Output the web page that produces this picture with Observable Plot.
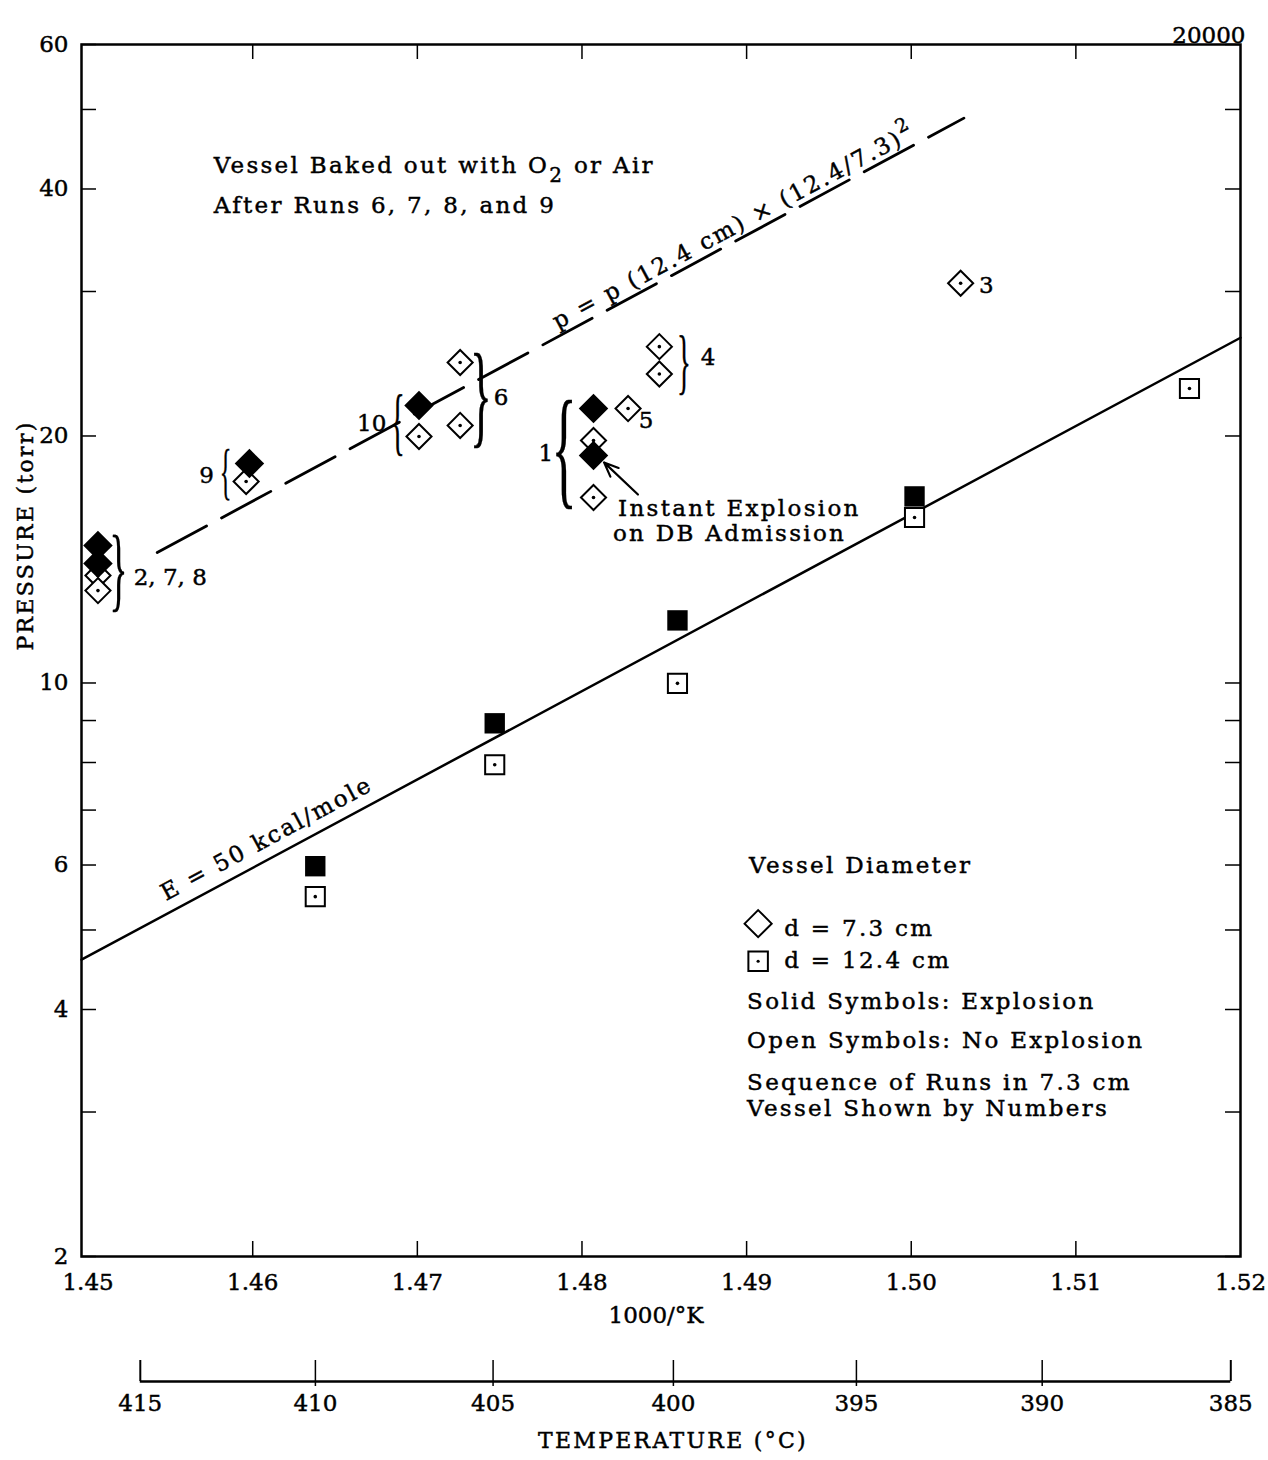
<!DOCTYPE html>
<html><head><meta charset="utf-8">
<script src="https://cdn.jsdelivr.net/npm/d3@7"></script>
<script src="https://cdn.jsdelivr.net/npm/@observablehq/plot@0.6"></script>
<style>
body{margin:0;background:#fff;}
#chart{width:1268px;}
#chart svg{display:block;}
#chart text{stroke:#000;stroke-width:0.45px;}
g[aria-description="brace"] text{stroke-width:0.2px;}
g[aria-description="annot"] text{letter-spacing:2.3px;}
</style></head><body><div id="chart"></div>
<script>
// ---- axes / ticks ----
const xTicks = [1.45, 1.46, 1.47, 1.48, 1.49, 1.50, 1.51, 1.52];
const yTicksLabeled = [60, 40, 20, 10, 8, 6, 4, 2];
const yTicksAll = [60, 50, 40, 30, 20, 10, 9, 8, 7, 6, 5, 4, 3, 2];
const tempTicksC = [415, 410, 405, 400, 395, 390, 385];

// ---- d = 7.3 cm (diamonds) ----
const diamondOpenX = [1.4506, 1.4506, 1.4596, 1.4701, 1.4726, 1.4726, 1.4807, 1.4807, 1.4828, 1.4847, 1.4847, 1.5030];
const diamondOpenP = [13.52, 12.96, 17.6, 19.97, 24.58, 20.6, 19.75, 16.83, 21.6, 25.7, 23.8, 30.7];
const diamondSolidX = [1.4506, 1.4506, 1.4598, 1.4701, 1.4807, 1.4807];
const diamondSolidP = [14.71, 13.98, 18.51, 21.78, 21.6, 18.93];

// ---- d = 12.4 cm (squares) ----
const squareOpenX = [1.4638, 1.4747, 1.4858, 1.5002, 1.5169];
const squareOpenP = [5.49, 7.95, 9.99, 15.91, 22.85];
const squareSolidX = [1.4638, 1.4747, 1.4858, 1.5002];
const squareSolidP = [5.98, 8.93, 11.92, 16.88];

// ---- drawn lines ----
const lineE_X = [1.4496, 1.52];
const lineE_P = [4.60, 26.35];
const lineD_X = [1.4542, 1.5032];
const lineD_P = [14.42, 48.8];

// ---- run-number labels and braces ----
const runLabels = ["2, 7, 8", "9", "10", "6", "1", "4", "5", "3"];
const runLabelX = [1.45277, 1.45720, 1.46723, 1.47508, 1.47781, 1.48766, 1.48389, 1.50456];
const runLabelP = [13.45, 17.9, 20.7, 22.3, 19.04, 24.9, 20.9, 30.5];
const runLabelAnchor = ["start", "middle", "middle", "middle", "middle", "middle", "middle", "middle"];
const braceChars = ["}", "{", "{", "}", "{", "}"];
const braceX = [1.45185, 1.45836, 1.46881, 1.47386, 1.47891, 1.48620];
const braceP = [13.71, 18.05, 20.8, 22.35, 19.26, 24.6];
const braceH = [84, 55, 67, 102, 118, 65];

// ---- text notes ----
const noteTexts = ["Vessel Baked out with O\u2082 or Air", "After Runs 6, 7, 8, and 9", "Instant Explosion", "on DB Admission",
  "Vessel Diameter", "d = 7.3 cm", "d = 12.4 cm", "Solid Symbols: Explosion", "Open Symbols: No Explosion",
  "Sequence of Runs in 7.3 cm", "Vessel Shown by Numbers"];
const noteX = [1.45763, 1.45763, 1.48219, 1.48188, 1.49015, 1.49228, 1.49228, 1.49003, 1.49003, 1.49003, 1.49003];
const noteP = [42.76, 38.2, 16.3, 15.2, 5.99, 5.02, 4.59, 4.09, 3.67, 3.26, 3.03];

const rows = (xs, ps) => xs.map((x, i) => ({x, p: ps[i]}));
const W = 1268, H = 1340, ML = 81, MR = 28, MT = 44, MB = 84;
const PW = W - ML - MR, PH = H - MT - MB;
const xDomain = [1.4496, 1.52];
const font = "'DejaVu Serif', serif";
const cToX = c => 1000 / (c + 273.15);

const main = Plot.plot({
  width: W, height: H, marginLeft: ML, marginRight: MR, marginTop: MT, marginBottom: MB,
  x: {domain: xDomain},
  y: {type: "log", domain: [2, 60]},
  style: {fontFamily: font, fontSize: "23px", color: "#000", background: "#fff"},
  marks: [
    Plot.line(rows(lineE_X, lineE_P), {x: "x", y: "p", stroke: "#000", strokeWidth: 2.5}),
    Plot.line(rows(lineD_X, lineD_P), {x: "x", y: "p", stroke: "#000", strokeWidth: 2.8, strokeDasharray: "56,17"}),
    Plot.ruleY(yTicksAll, {y: d => d, stroke: "#000", strokeWidth: 1.5, insetRight: PW - 15}),
    Plot.ruleY(yTicksAll, {y: d => d, stroke: "#000", strokeWidth: 1.5, insetLeft: PW - 15}),
    Plot.ruleX(xTicks.slice(1, -1), {x: d => d, stroke: "#000", strokeWidth: 1.5, insetTop: PH - 15}),
    Plot.ruleX(xTicks.slice(1, -1), {x: d => d, stroke: "#000", strokeWidth: 1.5, insetBottom: PH - 15}),
    Plot.axisY({ticks: yTicksLabeled, tickSize: 0, tickPadding: 13, tickFormat: d => String(d), label: null}),
    Plot.axisX({ticks: xTicks, tickSize: 0, tickPadding: 17, tickFormat: d3.format(".2f"), label: null}),
    Plot.frame({stroke: "#000", strokeWidth: 2.5}),
    // data symbols
    Plot.dot(rows(squareSolidX, squareSolidP), {x: "x", y: "p", symbol: "square", r: 11.5, fill: "#000"}),
    Plot.dot(rows(squareOpenX, squareOpenP), {x: "x", y: "p", symbol: "square", r: 10.8, fill: "#fff", stroke: "#000", strokeWidth: 2}),
    Plot.dot(rows(squareOpenX, squareOpenP), {x: "x", y: "p", r: 1.8, fill: "#000"}),
    Plot.dot(rows(diamondOpenX, diamondOpenP), {x: "x", y: "p", symbol: "diamond2", r: 11.3, fill: "#fff", stroke: "#000", strokeWidth: 2}),
    Plot.dot(rows(diamondOpenX, diamondOpenP), {x: "x", y: "p", r: 1.8, fill: "#000"}),
    Plot.dot(rows(diamondSolidX, diamondSolidP), {x: "x", y: "p", symbol: "diamond2", r: 13.3, fill: "#000"}),
    // legend symbols
    Plot.dot([{x: 1.4907, p: 5.09}], {x: "x", y: "p", symbol: "diamond2", r: 12.2, fill: "#fff", stroke: "#000", strokeWidth: 2}),
    Plot.dot([{x: 1.4907, p: 4.58}], {x: "x", y: "p", symbol: "square", r: 11, fill: "#fff", stroke: "#000", strokeWidth: 2}),
    Plot.dot([{x: 1.4907, p: 4.58}], {x: "x", y: "p", r: 1.6, fill: "#000"}),
    // arrow
    Plot.arrow([{x1: 1.4834, y1: 16.97, x2: 1.48134, y2: 18.57}], {x1: "x1", y1: "y1", x2: "x2", y2: "y2", stroke: "#000", strokeWidth: 2.2, headLength: 16, headAngle: 45}),
    // run labels & braces
    Plot.text(runLabels.map((t, i) => ({t, x: runLabelX[i], p: runLabelP[i], a: runLabelAnchor[i]})).filter(d => d.a === "start"),
      {x: "x", y: "p", text: "t", textAnchor: "start", fontSize: 23}),
    Plot.text(runLabels.map((t, i) => ({t, x: runLabelX[i], p: runLabelP[i], a: runLabelAnchor[i]})).filter(d => d.a === "middle"),
      {x: "x", y: "p", text: "t", textAnchor: "middle", fontSize: 23}),
    Plot.text(braceChars.map((c, i) => ({c, x: braceX[i], p: braceP[i], h: braceH[i]})),
      {x: "x", y: "p", text: "c", fontSize: d => d.h / 0.9, fontFamily: "'Liberation Serif', serif", ariaDescription: "brace"}),
    // notes
    Plot.text(noteTexts.map((t, i) => ({t, x: noteX[i], p: noteP[i]})),
      {x: "x", y: "p", text: "t", textAnchor: "start", fontSize: 23, ariaDescription: "annot"}),
    Plot.text([{x: 1.46085, p: 6.46}], {x: "x", y: "p", text: () => "E = 50 kcal/mole", rotate: -28.2, fontSize: 23, ariaDescription: "annot"}),
    Plot.text([{x: 1.48924, p: 36.0}], {x: "x", y: "p", text: () => "p = p (12.4 cm) \u00d7 (12.4/7.3)\u00b2", rotate: -28.2, fontSize: 23, ariaDescription: "annot"}),
    Plot.text(["PRESSURE (torr)"], {frameAnchor: "left", dx: -56, rotate: -90, fontSize: 22, ariaDescription: "annot"}),
    Plot.text(["1000/\u00b0K"], {frameAnchor: "bottom", dy: 66, dx: -5, fontSize: 23}),
    Plot.text(["20000"], {frameAnchor: "top-right", dy: -18, dx: 5, textAnchor: "end", fontSize: 23})
  ]
});

const temp = Plot.plot({
  width: W, height: 120, marginLeft: ML, marginRight: MR, marginTop: 20, marginBottom: 79,
  x: {domain: xDomain, axis: null},
  y: {domain: [0, 1], axis: null},
  style: {fontFamily: font, fontSize: "23px", color: "#000", background: "#fff"},
  marks: [
    Plot.ruleY([0], {x1: () => cToX(tempTicksC[0]), x2: () => cToX(tempTicksC[tempTicksC.length - 1]), stroke: "#000", strokeWidth: 2.5}),
    Plot.ruleX([tempTicksC[0], tempTicksC[tempTicksC.length - 1]], {x: cToX, y1: 0, y2: 1, stroke: "#000", strokeWidth: 2}),
    Plot.ruleX(tempTicksC.slice(1, -1), {x: cToX, y1: 0, y2: 1, insetTop: 5, stroke: "#000", strokeWidth: 1.5}),
    Plot.text(tempTicksC, {x: cToX, y: 0, dy: 22, text: d => String(d), fontSize: 23}),
    Plot.text(["TEMPERATURE (\u00b0C)"], {frameAnchor: "bottom", dy: 66, dx: 12, fontSize: 22, ariaDescription: "annot"})
  ]
});

document.getElementById("chart").append(main, temp);

// narrow the brace glyphs horizontally
main.querySelectorAll('g[aria-description="brace"] text').forEach(t => {
  const x = t.getAttribute("x"), y = t.getAttribute("y");
  let tr = t.getAttribute("transform") || "";
  if (x !== null) { t.removeAttribute("x"); t.removeAttribute("y"); tr = `translate(${x},${y ?? 0})`; }
  t.setAttribute("transform", tr + " scale(0.4,1)");
});

// larger subscript / superscript digits, as in the original typesetting
main.querySelectorAll('g[aria-description="annot"] text').forEach(t => {
  const s = t.textContent;
  const ns = "http://www.w3.org/2000/svg";
  const mk = (txt, attrs) => { const e = document.createElementNS(ns, "tspan"); e.textContent = txt; for (const k in attrs) e.setAttribute(k, attrs[k]); return e; };
  if (s.includes("O\u2082")) {
    const [a, b] = s.split("O\u2082");
    t.textContent = a + "O";
    t.append(mk("2", {dy: "9", "font-size": "20"}), mk(b, {dy: "-9"}));
  } else if (s.includes("\u00b2")) {
    const a = s.replace("\u00b2", "");
    t.textContent = a;
    t.append(mk("2", {dy: "-11", "font-size": "19"}));
  }
});
</script></body></html>
